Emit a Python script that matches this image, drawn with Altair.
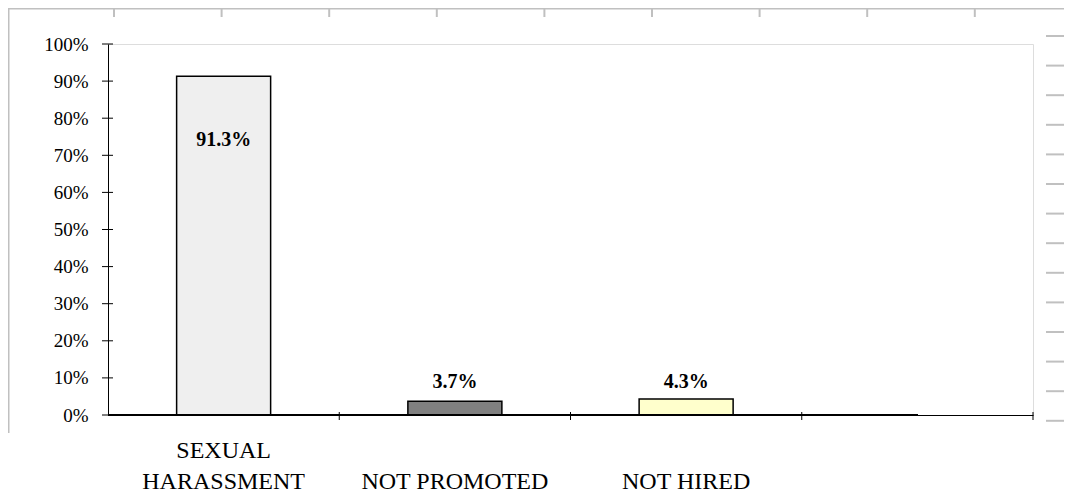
import altair as alt
import pandas as pd

# ---- data ----
categories = ["SEXUAL HARASSMENT", "NOT PROMOTED", "NOT HIRED", " "]
values = [0.913, 0.037, 0.043, None]
bar_colors = ["#EFEFEF", "#808080", "#FFFFCC", "#FFFFFF"]
value_labels = ["91.3%", "3.7%", "4.3%", ""]
label_pos = [0.741, 0.090, 0.090, None]
label_line1 = ["SEXUAL", "", "", ""]
label_line2 = ["HARASSMENT", "NOT PROMOTED", "NOT HIRED", ""]
y_ticks = [0.0, 0.1, 0.2, 0.3, 0.4, 0.5, 0.6, 0.7, 0.8, 0.9, 1.0]

df = pd.DataFrame({
    "cat": categories,
    "value": values,
    "label": value_labels,
    "lpos": label_pos,
    "l1": label_line1,
    "l2": label_line2,
})
ticks_df = pd.DataFrame({"t": y_ticks})

W, H = 925, 371
FONT = "Liberation Serif"

xscale = alt.Scale(domain=categories, paddingInner=0, paddingOuter=0)
yscale = alt.Scale(domain=[0, 1], nice=False)

x_axis = alt.Axis(labels=False, ticks=False, title=None, domainColor="black",
                  domainWidth=1, grid=False)
y_axis = alt.Axis(values=y_ticks, format=".0%", title=None, ticks=False, tickSize=0,
                  labelPadding=20, labelFont=FONT, labelFontSize=19,
                  labelOverlap=False, labelFlush=False,
                  labelColor="black", domainColor="black", grid=False)

base = alt.Chart(df)

bars = base.mark_bar(
    width=alt.RelativeBandSize(0.4065), stroke="black", strokeWidth=1.5
).encode(
    x=alt.X("cat:N", scale=xscale, sort=categories, axis=x_axis),
    y=alt.Y("value:Q", scale=yscale, axis=y_axis),
    fill=alt.Fill("cat:N", scale=alt.Scale(domain=categories, range=bar_colors), legend=None),
)

thick_base = alt.Chart(ticks_df).mark_rule(color="black", strokeWidth=2).encode(
    y=alt.Y(datum=0, scale=yscale, axis=y_axis), x=alt.value(0), x2=alt.value(810)
)

yt = alt.Chart(ticks_df).mark_rule(color="black", strokeWidth=1).encode(
    y=alt.Y("t:Q", scale=yscale, axis=y_axis), x=alt.value(-6), x2=alt.value(5)
)

xt = base.mark_rule(color="black", strokeWidth=1).encode(
    x=alt.X("cat:N", scale=xscale, sort=categories, bandPosition=1, axis=x_axis),
    y=alt.value(H - 3), y2=alt.value(H + 5),
)

vlabels = base.mark_text(font=FONT, fontSize=20, fontWeight="bold", color="black",
                         baseline="middle").encode(
    x=alt.X("cat:N", scale=xscale, sort=categories, bandPosition=0.5, axis=x_axis),
    y=alt.Y("lpos:Q", scale=yscale, axis=y_axis),
    text="label:N",
)

cl1 = base.mark_text(font=FONT, fontSize=24, color="black", baseline="alphabetic").encode(
    x=alt.X("cat:N", scale=xscale, sort=categories, bandPosition=0.5, axis=x_axis),
    y=alt.value(414),
    text="l1:N",
)
cl2 = base.mark_text(font=FONT, fontSize=24, color="black", baseline="alphabetic").encode(
    x=alt.X("cat:N", scale=xscale, sort=categories, bandPosition=0.5, axis=x_axis),
    y=alt.value(445),
    text="l2:N",
)

# spreadsheet frame decorations (layout, not data)
deco = []
GRAY = "#C0C0C0"
one = pd.DataFrame({"a": [0]})
deco.append(alt.Chart(one).mark_rule(color=GRAY, strokeWidth=2).encode(
    x=alt.value(-99.5), y=alt.value(-36), y2=alt.value(389)))
deco.append(alt.Chart(one).mark_rule(color=GRAY, strokeWidth=2).encode(
    x=alt.value(-100), x2=alt.value(960), y=alt.value(-35.5)))
for k in range(9):
    px = 6 + 107.6 * k
    deco.append(alt.Chart(one).mark_rule(color=GRAY, strokeWidth=2).encode(
        x=alt.value(px), y=alt.value(-36), y2=alt.value(-27)))
for k in range(14):
    py = -8 + 29.6 * k
    deco.append(alt.Chart(one).mark_rule(color=GRAY, strokeWidth=2).encode(
        x=alt.value(938), x2=alt.value(960), y=alt.value(py)))

chart = alt.layer(
    bars, *deco, thick_base, yt, xt, vlabels, cl1, cl2
).properties(
    width=W, height=H,
    autosize=alt.AutoSizeParams(type="none"),
    padding={"left": 100, "top": 36, "right": 31, "bottom": 81},
).configure_view(
    stroke="#808080", strokeWidth=1
).configure(background="white")

chart.save("out.html", embed_options={"renderer": "svg", "actions": False})
